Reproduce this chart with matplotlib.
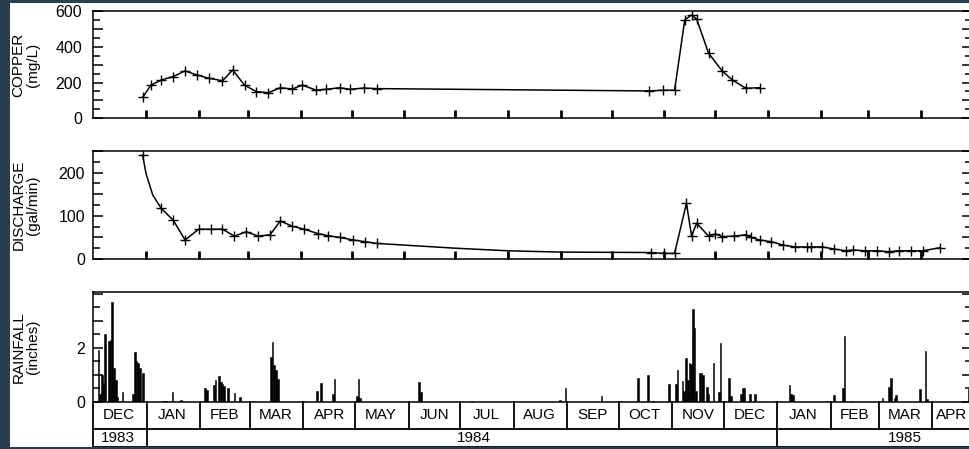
import numpy as np
import matplotlib
matplotlib.use("Agg")
import matplotlib.pyplot as plt
from matplotlib.ticker import MultipleLocator
from matplotlib.patches import Rectangle

plt.rcParams['font.family'] = ['Liberation Sans', 'DejaVu Sans']

# ---------------- data ----------------
copper_dates = ['1983-12-30', '1984-01-04', '1984-01-10', '1984-01-17', '1984-01-24', '1984-01-31',
                '1984-02-07', '1984-02-15', '1984-02-21', '1984-02-28', '1984-03-06', '1984-03-13',
                '1984-03-20', '1984-03-27', '1984-04-02', '1984-04-10', '1984-04-16', '1984-04-24',
                '1984-04-30', '1984-05-08', '1984-05-16', '1984-10-23', '1984-10-31', '1984-11-07',
                '1984-11-13', '1984-11-17', '1984-11-20', '1984-11-27', '1984-12-05', '1984-12-11',
                '1984-12-19', '1984-12-27']
copper_values = [117, 186, 214, 233, 265, 242, 224, 210, 270, 185, 149, 143,
                 171, 164, 185, 158, 162, 171, 162, 169, 166, 153, 157, 157,
                 550, 578, 555, 364, 265, 214, 168, 171]

discharge_dates = ['1983-12-30', '1984-01-10', '1984-01-17', '1984-01-24', '1984-02-01', '1984-02-08',
                   '1984-02-15', '1984-02-22', '1984-02-29', '1984-03-07', '1984-03-14', '1984-03-20',
                   '1984-03-27', '1984-04-03', '1984-04-11', '1984-04-17', '1984-04-24', '1984-05-02',
                   '1984-05-09', '1984-05-16', '1984-10-24', '1984-11-01', '1984-11-07', '1984-11-14',
                   '1984-11-17', '1984-11-20', '1984-11-27', '1984-12-01', '1984-12-05', '1984-12-12',
                   '1984-12-19', '1984-12-22', '1984-12-27', '1985-01-03', '1985-01-10', '1985-01-17',
                   '1985-01-24', '1985-01-26', '1985-02-02', '1985-02-09', '1985-02-16', '1985-02-20',
                   '1985-02-27', '1985-03-06', '1985-03-13', '1985-03-19', '1985-03-26', '1985-04-02',
                   '1985-04-12']
discharge_values = [241, 117, 90, 44, 69, 69, 69, 53, 63, 53, 56, 88,
                    76, 69, 59, 54, 50, 44, 40, 36, 15, 13, 13, 129,
                    53, 83, 53, 58, 52, 53, 56, 50, 44, 40, 32, 28,
                    28, 28, 28, 23, 19, 21, 19, 19, 17, 19, 19, 19,
                    26]
# unmarked vertices of the drawn discharge curve
discharge_curve_dates = ['1984-01-01', '1984-01-05', '1984-07-01', '1984-08-01', '1984-09-01']
discharge_curve_values = [198, 148, 25, 19, 16]

rain_dates = ['1983-12-04', '1983-12-05', '1983-12-06', '1983-12-07', '1983-12-08', '1983-12-10',
              '1983-12-11', '1983-12-12', '1983-12-13', '1983-12-14', '1983-12-15', '1983-12-18',
              '1983-12-24', '1983-12-25', '1983-12-26', '1983-12-27', '1983-12-28', '1983-12-30',
              '1984-01-11', '1984-01-12', '1984-01-16', '1984-01-21',
              '1984-02-04', '1984-02-05', '1984-02-09', '1984-02-10', '1984-02-12', '1984-02-13',
              '1984-02-14', '1984-02-15', '1984-02-17', '1984-02-21', '1984-02-24',
              '1984-03-03', '1984-03-13', '1984-03-14', '1984-03-15', '1984-03-16', '1984-03-17',
              '1984-04-01', '1984-04-09', '1984-04-11', '1984-04-18', '1984-04-19',
              '1984-05-02', '1984-05-03', '1984-05-04', '1984-06-07', '1984-06-08', '1984-07-08',
              '1984-08-28', '1984-08-31', '1984-09-21',
              '1984-10-02', '1984-10-12', '1984-10-18', '1984-10-21', '1984-10-30',
              '1984-11-03', '1984-11-04', '1984-11-07', '1984-11-08', '1984-11-09', '1984-11-10',
              '1984-11-11', '1984-11-12', '1984-11-13', '1984-11-14', '1984-11-15', '1984-11-17',
              '1984-11-18', '1984-11-19', '1984-11-21', '1984-11-22', '1984-11-25', '1984-11-28',
              '1984-11-29', '1984-12-02', '1984-12-04', '1984-12-05', '1984-12-11', '1984-12-12',
              '1984-12-13', '1984-12-16', '1984-12-19', '1984-12-31',
              '1985-01-08', '1985-01-09', '1985-01-10', '1985-01-30',
              '1985-02-03', '1985-02-08', '1985-02-09', '1985-02-13',
              '1985-03-03', '1985-03-07', '1985-03-08', '1985-03-10', '1985-03-11', '1985-03-25',
              '1985-03-28', '1985-03-29', '1985-04-22']
rain_values = [1.90, 0.30, 1.00, 0.70, 2.50, 2.25,
               2.27, 3.68, 1.24, 0.80, 0.19, 0.35,
               0.30, 1.85, 1.51, 1.42, 1.24, 1.05,
               0.02, 0.02, 0.37, 0.08,
               0.52, 0.44, 0.62, 0.80, 0.96, 0.73,
               0.65, 0.57, 0.50, 0.31, 0.16,
               0.03, 1.67, 2.22, 1.36, 1.17, 0.84,
               0.04, 0.40, 0.68, 0.30, 0.84,
               0.20, 0.83, 0.15, 0.72, 0.35, 0.02,
               0.05, 0.50, 0.21,
               0.03, 0.86, 0.99, 0.04, 0.66,
               0.66, 1.17, 0.78, 0.40, 1.63, 0.80,
               1.42, 1.40, 3.43, 2.72, 0.38, 1.05,
               1.05, 1.00, 0.53, 0.27, 1.42, 0.35,
               2.16, 0.03, 0.86, 0.20, 0.27, 0.50,
               0.50, 0.30, 0.28, 0.03,
               0.60, 0.30, 0.25, 0.03,
               0.25, 0.50, 2.44, 0.03,
               0.15, 0.53, 0.89, 0.13, 0.25, 0.46,
               1.88, 0.10, 0.46]

month_labels = ['DEC', 'JAN', 'FEB', 'MAR', 'APR', 'MAY', 'JUN', 'JUL', 'AUG', 'SEP',
                'OCT', 'NOV', 'DEC', 'JAN', 'FEB', 'MAR', 'APR']
month_starts = ['1983-12-01', '1984-01-01', '1984-02-01', '1984-03-01', '1984-04-01', '1984-05-01',
                '1984-06-01', '1984-07-01', '1984-08-01', '1984-09-01', '1984-10-01', '1984-11-01',
                '1984-12-01', '1985-01-01', '1985-02-01', '1985-03-01', '1985-04-01', '1985-05-01']
year_labels = ['1983', '1984', '1985']
year_starts = ['1983-12-01', '1984-01-01', '1985-01-01']
year_label_pos = ['1983-12-15', '1984-07-09', '1985-03-16']

# ---------------- figure ----------------
W, H = 970, 449
fig = plt.figure(figsize=(W / 100, H / 100), dpi=100)
fig.patch.set_facecolor('white')

LEFT, RIGHT = 93.3, 972.0
x0 = np.datetime64('1983-12-01')
x1 = x0 + np.timedelta64(510, 'D')


def add_ax(top, bottom):
    return fig.add_axes([LEFT / W, 1 - bottom / H, (RIGHT - LEFT) / W, (bottom - top) / H])


def D(lst):
    return np.array(lst, dtype='datetime64[D]')


def style(ax, pad):
    for s in ax.spines.values():
        s.set_linewidth(1.1)
    ax.tick_params(axis='y', which='major', direction='in', length=7.5, width=1.1,
                   left=True, right=True, labelsize=11.5, pad=pad)
    ax.tick_params(axis='y', which='minor', direction='in', length=5, width=1.1,
                   left=True, right=True)
    ax.set_xlim(x0, x1)


line_kw = dict(color='black', lw=1.1)
mark_kw = dict(color='black', ls='none', marker='+', ms=7, mew=1.0)

# Copper
ax1 = add_ax(11.0, 118.3)
ax1.plot(D(copper_dates), copper_values, **line_kw)
ax1.plot(D(copper_dates), copper_values, **mark_kw)
ax1.set_ylim(0, 600)
ax1.set_yticks(range(0, 601, 100), ['0', '', '200', '', '400', '', '600'])
ax1.yaxis.set_minor_locator(MultipleLocator(50))
style(ax1, 8)

# Discharge
ax2 = add_ax(151.0, 259.0)
dd = np.concatenate([D(discharge_dates), D(discharge_curve_dates)])
dv = np.concatenate([discharge_values, discharge_curve_values])
order = np.argsort(dd)
ax2.plot(dd[order], dv[order], **line_kw)
ax2.plot(D(discharge_dates), discharge_values, **mark_kw)
ax2.set_ylim(0, 250)
ax2.set_yticks(range(0, 251, 50), ['0', '', '100', '', '200', ''])
ax2.yaxis.set_minor_locator(MultipleLocator(25))
style(ax2, 6)

for ax in (ax1, ax2):
    ax.set_xticks(D(month_starts[1:]))
    ax.tick_params(axis='x', which='major', direction='in', length=6, width=2,
                   bottom=True, top=False, labelbottom=False)

# Rainfall
ax3 = add_ax(292.3, 401.7)
ax3.bar(D(rain_dates), rain_values, width=1.0, color='black', edgecolor='black', linewidth=0.4)
ax3.set_ylim(0, 4.05)
ax3.set_yticks(range(0, 5), ['0', '', '2', '', ''])
ax3.yaxis.set_minor_locator(MultipleLocator(0.5))
style(ax3, 6)
ax3.set_xticks([])

# month / year boxes below rainfall
tr = ax3.get_xaxis_transform()
row1 = (401.7 - 429.0) / (401.7 - 292.3)
row2 = (401.7 - 446.5) / (401.7 - 292.3)
box_kw = dict(color='black', lw=1.3, transform=tr, clip_on=False)
ms = D(month_starts)
for m in ms[1:-1]:
    ax3.plot([m, m], [0, row1], **box_kw)
ax3.plot([x0, x0], [0, row2], **box_kw)
ax3.plot([x0, x1], [row1, row1], **box_kw)
ax3.plot([x0, x1], [row2, row2], **box_kw)
for y in D(year_starts)[1:]:
    ax3.plot([y, y], [row1, row2], **box_kw)
for i, lab in enumerate(month_labels):
    mid = ms[i] + (ms[i + 1] - ms[i]) / 2
    # keep the last, partly visible month label inside the picture
    mid = min(mid, x1 - np.timedelta64(12, 'D'))
    ax3.text(mid, row1 / 2, lab, transform=tr, ha='center', va='center', fontsize=11, clip_on=False)
for lab, pos in zip(year_labels, D(year_label_pos)):
    ax3.text(pos, (row1 + row2) / 2, lab, transform=tr, ha='center', va='center', fontsize=11,
             clip_on=False)

# y-axis titles
for txt, yc in [('COPPER\n(mg/L)', 64.5), ('DISCHARGE\n(gal/min)', 205.0), ('RAINFALL\n(inches)', 347.0)]:
    fig.text(26 / W, 1 - yc / H, txt, rotation=90, ha='center', va='center', fontsize=11,
             linespacing=1.05, multialignment='center')

# dark frame strips of the scan
dark = '#2c3e4d'
for (x, y, w, h) in [(0, 0, 10, H), (0, 0, W, 3.3), (0, 446.7, W, 2.3)]:
    fig.patches.append(Rectangle((x / W, 1 - (y + h) / H), w / W, h / H, transform=fig.transFigure,
                                 facecolor=dark, edgecolor='none', zorder=10))

fig.savefig('out.png', dpi=100)
